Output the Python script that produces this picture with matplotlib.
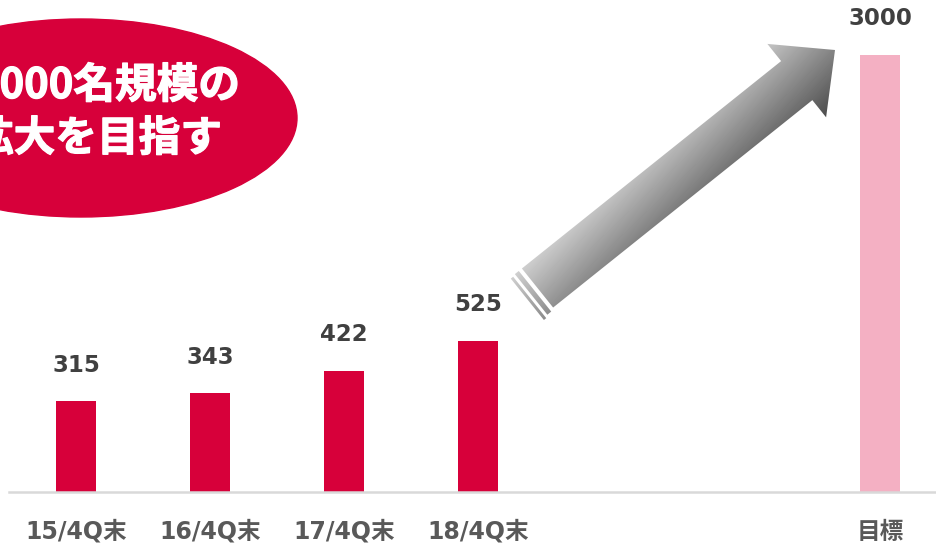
import numpy as np
import matplotlib.pyplot as plt
import matplotlib.patheffects as pe
from matplotlib.patches import Ellipse, PathPatch
from matplotlib.path import Path

plt.rcParams['font.family'] = ['DejaVu Sans', 'Noto Sans CJK JP']

categories = ["15/4Q末", "16/4Q末", "17/4Q末", "18/4Q末", "目標"]
values = [315, 343, 422, 525, 3000]
bar_colors = ["#D7003A", "#D7003A", "#D7003A", "#D7003A", "#F4B0C3"]
callout_lines = ["3000名規模の", "拡大を目指す"]

W, H = 937, 543
fig = plt.figure(figsize=(W / 100, H / 100), dpi=100)
ax = fig.add_axes([9 / W, 51 / H, 928 / W, 437 / H])

# two empty slots between the last actual and the target
x = np.array([0, 1, 2, 3, 6])
ymax = 1520
ax.bar(x, values, width=0.3, color=bar_colors, zorder=2)
ax.set_xlim(-0.5, 6.425)
ax.set_ylim(0, ymax)

for xi, v in zip(x, values):
    ax.annotate(str(v), (xi, min(v, ymax)), xytext=(0, 26), textcoords="offset points",
                ha="center", va="center", fontsize=16.5, fontweight="bold", color="#404040",
                annotation_clip=False)

ax.set_xticks(x)
ax.set_xticklabels(categories, fontsize=17, fontweight="bold", color="#595959")
ax.tick_params(axis="x", length=0, pad=20)
ax.set_yticks([])
for s in ["left", "right", "top"]:
    ax.spines[s].set_visible(False)
ax.spines["bottom"].set_color("#D9D9D9")
ax.spines["bottom"].set_linewidth(1.8)

# overlay in pixel coordinates for the callout and arrow
ov = fig.add_axes([0, 0, 1, 1], zorder=5)
ov.set_xlim(0, W)
ov.set_ylim(H, 0)
ov.axis("off")
ov.patch.set_alpha(0)

ov.add_patch(Ellipse((81, 118), 432, 198, color="#D7003A"))
thick = [pe.withStroke(linewidth=0.9, foreground="white")]
ov.text(-25, 86, callout_lines[0], ha="left", va="center", fontsize=30,
        fontweight="bold", color="white", family=["Noto Sans CJK JP"], path_effects=thick)
ov.text(-28, 139, callout_lines[1], ha="left", va="center", fontsize=30,
        fontweight="bold", color="white", family=["Noto Sans CJK JP"], path_effects=thick)

# gradient arrow
tail = np.array([537.5, 288.0])
tip = np.array([835.0, 50.0])
L = np.linalg.norm(tip - tail)
u = (tip - tail) / L
n = np.array([u[1], -u[0]])
if n[1] > 0:
    n = -n
hw, head_hw, head_len = 25, 47, 49


def pt(su, sn):
    return tail + u * su + n * sn


arrow = [pt(0, hw), pt(L - head_len, hw), pt(L - head_len, head_hw), pt(L, 0),
         pt(L - head_len, -head_hw), pt(L - head_len, -hw), pt(0, -hw)]
stripe1 = [pt(-4, hw), pt(-9, hw), pt(-9, -hw - 2), pt(-4, -hw - 2)]
stripe2 = [pt(-12, hw - 1), pt(-15, hw - 1), pt(-15, -hw - 4), pt(-12, -hw - 4)]
path = Path.make_compound_path(*[Path(np.vstack([p, p[:1]]), closed=True)
                                 for p in (np.array(arrow), np.array(stripe1), np.array(stripe2))])
clip = PathPatch(path, transform=ov.transData, facecolor="none", edgecolor="none")
ov.add_patch(clip)

gx, gy = np.meshgrid(np.arange(490, 860), np.arange(30, 330))
su = (gx - tail[0]) * u[0] + (gy - tail[1]) * u[1]
sn = (gx - tail[0]) * n[0] + (gy - tail[1]) * n[1]
shade = np.clip(0.68 + 0.005 * sn - 0.00045 * su, 0, 1)
im = ov.imshow(shade, cmap="gray", vmin=0, vmax=1, extent=(490, 860, 330, 30),
               interpolation="bilinear", zorder=3)
im.set_clip_path(clip)
ov.set_xlim(0, W)
ov.set_ylim(H, 0)
ov.set_aspect("auto")

fig.savefig("out.png", dpi=100)
